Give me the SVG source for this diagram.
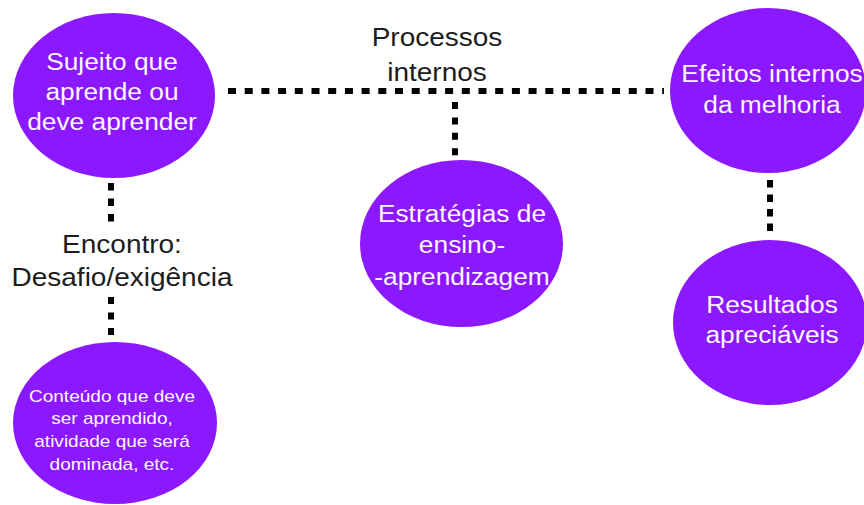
<svg xmlns="http://www.w3.org/2000/svg" width="864" height="505" viewBox="0 0 864 505">
<style>
.node{fill:#8c18ff}
.nt{font-family:"Liberation Sans",Arial,sans-serif;font-size:23.5px;fill:#fbf6ff;text-anchor:middle}
.st{font-family:"Liberation Sans",Arial,sans-serif;font-size:17px;fill:#fbf6ff;text-anchor:middle}
.lb{font-family:"Liberation Sans",Arial,sans-serif;font-size:25px;fill:#1c1c1c;text-anchor:middle}
.c{stroke:#000;stroke-width:6;fill:none}
</style>
<rect width="864" height="505" fill="#fff"/>
<g id="connectors">
<line class="c" x1="228" y1="91" x2="664" y2="91" stroke-dasharray="8 8.7"/>
<line class="c" x1="455" y1="102" x2="455" y2="156" stroke-dasharray="7 8.4"/>
<line class="c" x1="111" y1="183" x2="111" y2="222" stroke-dasharray="7.5 8"/>
<line class="c" x1="111" y1="297" x2="111" y2="336" stroke-dasharray="7 8.5"/>
<line class="c" x1="770" y1="180" x2="770" y2="233" stroke-dasharray="7.5 7"/>
</g>
<g id="label-processos">
<g transform="translate(437 0) scale(1.12 1)"><text class="lb" x="0" y="46">Processos</text><text class="lb" x="0" y="81">internos</text></g>
</g>
<g id="label-encontro">
<g transform="translate(122 0) scale(1.12 1)"><text class="lb" x="0" y="253">Encontro:</text><text class="lb" x="0" y="286">Desafio/exigência</text></g>
</g>
<g id="node-sujeito">
<ellipse class="node" cx="114" cy="95.5" rx="101" ry="82.5"/>
<g transform="translate(112 0) scale(1.12 1)"><text class="nt" x="0" y="70">Sujeito que</text><text class="nt" x="0" y="100">aprende ou</text><text class="nt" x="0" y="130">deve aprender</text></g>
</g>
<g id="node-estrategias">
<ellipse class="node" cx="461.5" cy="243.5" rx="101.5" ry="83.5"/>
<g transform="translate(462 0) scale(1.12 1)"><text class="nt" x="0" y="222">Estratégias de</text><text class="nt" x="0" y="253">ensino-</text><text class="nt" x="0" y="285">-aprendizagem</text></g>
</g>
<g id="node-efeitos">
<ellipse class="node" cx="768" cy="90.5" rx="98" ry="82.5"/>
<g transform="translate(772 0) scale(1.12 1)"><text class="nt" x="0" y="82">Efeitos internos</text><text class="nt" x="0" y="113">da melhoria</text></g>
</g>
<g id="node-resultados">
<ellipse class="node" cx="770" cy="322.5" rx="97" ry="82.5"/>
<g transform="translate(772 0) scale(1.12 1)"><text class="nt" x="0" y="313">Resultados</text><text class="nt" x="0" y="343">apreciáveis</text></g>
</g>
<g id="node-conteudo">
<ellipse class="node" cx="115" cy="423" rx="102" ry="81"/>
<g transform="translate(112 0) scale(1.12 1)"><text class="st" x="0" y="402">Conteúdo que deve</text><text class="st" x="0" y="424">ser aprendido,</text><text class="st" x="0" y="447">atividade que será</text><text class="st" x="0" y="470">dominada, etc.</text></g>
</g>
</svg>
